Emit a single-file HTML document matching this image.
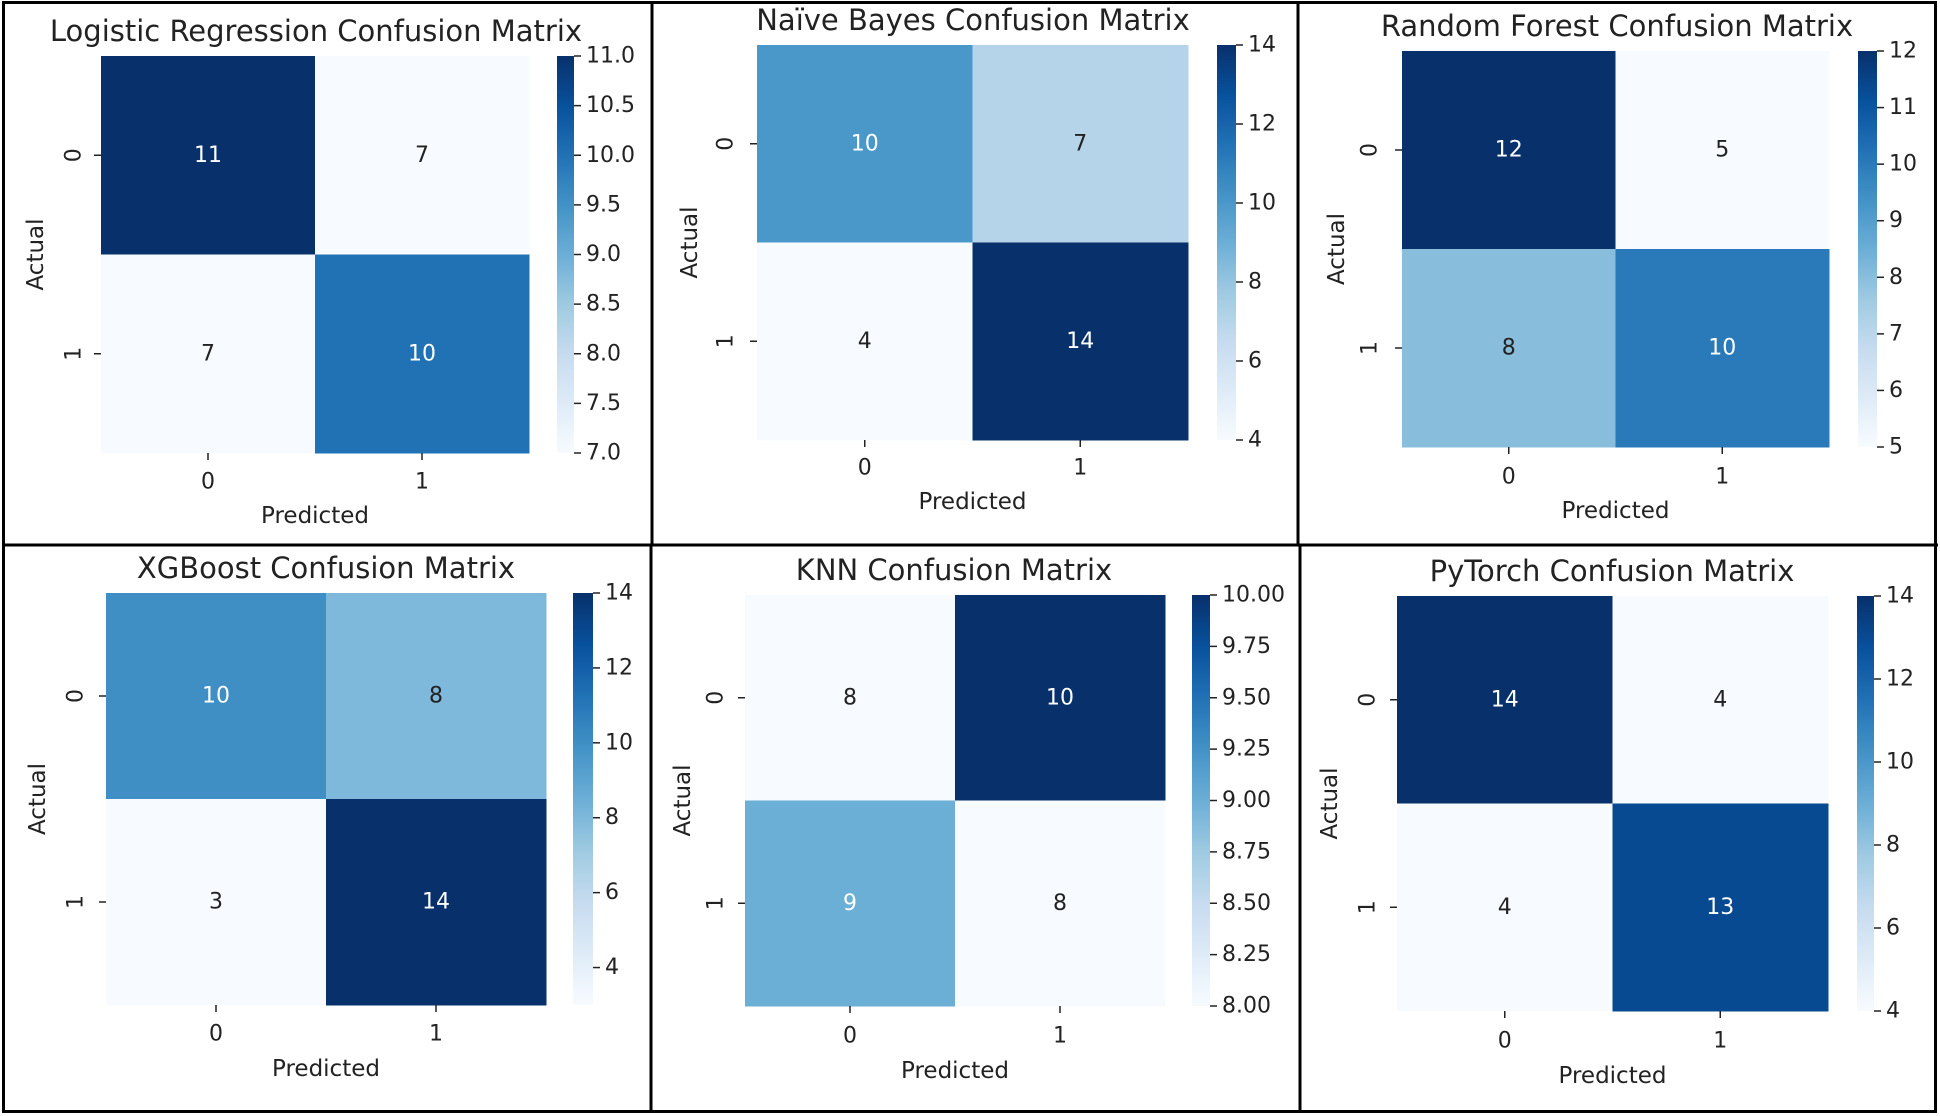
<!DOCTYPE html>
<html><head><meta charset="utf-8"><style>
html,body{margin:0;padding:0;background:#fff;}
svg{display:block;font-family:"DejaVu Sans","Liberation Sans",sans-serif;}
</style></head><body>
<svg id="fig" width="1940" height="1116" viewBox="0 0 1940 1116" xmlns="http://www.w3.org/2000/svg"></svg>
<script>
// ---- data ----
const titles = ["Logistic Regression Confusion Matrix","Naïve Bayes Confusion Matrix","Random Forest Confusion Matrix","XGBoost Confusion Matrix","KNN Confusion Matrix","PyTorch Confusion Matrix"];
const lrValues  = [[11,7],[7,10]];
const nbValues  = [[10,7],[4,14]];
const rfValues  = [[12,5],[8,10]];
const xgbValues = [[10,8],[3,14]];
const knnValues = [[8,10],[9,8]];
const ptValues  = [[14,4],[4,13]];
const classLabels = ["0","1"];
const lrTicks  = [7,7.5,8,8.5,9,9.5,10,10.5,11];
const nbTicks  = [4,6,8,10,12,14];
const rfTicks  = [5,6,7,8,9,10,11,12];
const xgbTicks = [4,6,8,10,12,14];
const knnTicks = [8,8.25,8.5,8.75,9,9.25,9.5,9.75,10];
const ptTicks  = [4,6,8,10,12,14];
const tickDecimals = [1,0,0,0,2,0];

// ---- layout (pixel geometry, not data) ----
const layout = [
 {hx0:101,hx1:529,hy0:56,hy1:453,cx0:557,cx1:574,tx:316,ty:31,ylx:36,ytx:74,xty:482,plY:516},
 {hx0:757,hx1:1188,hy0:45,hy1:440,cx0:1217,cx1:1236,tx:973,ty:20,ylx:690,ytx:726,xty:468,plY:502},
 {hx0:1402,hx1:1829,hy0:51,hy1:447,cx0:1858,cx1:1877,tx:1617,ty:26,ylx:1337,ytx:1370,xty:477,plY:511},
 {hx0:106,hx1:546,hy0:593,hy1:1005,cx0:573,cx1:593,tx:326,ty:568,ylx:38,ytx:76,xty:1034,plY:1069},
 {hx0:745,hx1:1165,hy0:595,hy1:1006,cx0:1192,cx1:1210,tx:954,ty:570,ylx:683,ytx:716,xty:1036,plY:1071},
 {hx0:1397,hx1:1828,hy0:596,hy1:1011,cx0:1857,cx1:1874,tx:1612,ty:571,ylx:1330,ytx:1368,xty:1041,plY:1076}
];
const allValues = [lrValues,nbValues,rfValues,xgbValues,knnValues,ptValues];
const allTicks = [lrTicks,nbTicks,rfTicks,xgbTicks,knnTicks,ptTicks];

const NS="http://www.w3.org/2000/svg";
const svg=document.getElementById('fig');
function mk(tag,attrs,parent){const e=document.createElementNS(NS,tag);for(const k in attrs)e.setAttribute(k,attrs[k]);(parent||svg).appendChild(e);return e;}

const blues=["#f7fbff","#deebf7","#c6dbef","#9ecae1","#6baed6","#4292c6","#2171b5","#08519c","#08306b"];
function hex2rgb(h){return [parseInt(h.slice(1,3),16),parseInt(h.slice(3,5),16),parseInt(h.slice(5,7),16)];}
function cmap(t){t=Math.max(0,Math.min(1,t));const p=t*8;const i=Math.min(7,Math.floor(p));const f=p-i;const a=hex2rgb(blues[i]),b=hex2rgb(blues[i+1]);return [0,1,2].map(k=>Math.round(a[k]+(b[k]-a[k])*f));}
function rgbStr(c){return `rgb(${c[0]},${c[1]},${c[2]})`;}
function lum(c){const l=c.map(v=>{v/=255;return v<=0.03928?v/12.92:Math.pow((v+0.055)/1.055,2.4);});return 0.2126*l[0]+0.7152*l[1]+0.0722*l[2];}

const TXT="#222222";
allValues.forEach((vals,p)=>{
  const L=layout[p];
  const flat=vals.flat();
  const vmin=Math.min(...flat), vmax=Math.max(...flat);
  const g=mk('g',{});
  
  
  const n=classLabels.length;
  const cw=(L.hx1-L.hx0)/n, ch=(L.hy1-L.hy0)/n;
  const xCenter=i=>L.hx0+cw*(i+0.5);
  const yCenter=i=>L.hy0+ch*(i+0.5);
  const t=mk('text',{x:L.tx,y:L.ty,'font-size':29,'text-anchor':'middle','dominant-baseline':'central',fill:TXT},g);
  t.textContent=titles[p];
  
  
  vals.forEach((row,r)=>row.forEach((v,c)=>{
    const col=cmap((v-vmin)/(vmax-vmin));
    const rect=mk('rect',{x:L.hx0+c*cw,y:L.hy0+r*ch,width:cw+0.5,height:ch+0.5,fill:rgbStr(col)},g);
    
    
    const a=mk('text',{x:xCenter(c),y:yCenter(r),'font-size':22,'text-anchor':'middle','dominant-baseline':'central',fill:lum(col)>0.408?TXT:'#ffffff'},g);
    a.textContent=String(v);
    
    
  }));
  classLabels.forEach((lab,i)=>{
    mk('line',{x1:xCenter(i),x2:xCenter(i),y1:L.hy1,y2:L.hy1+7,stroke:TXT,'stroke-width':1.5},g);
    const xt=mk('text',{x:xCenter(i),y:L.xty,'font-size':22,'text-anchor':'middle','dominant-baseline':'central',fill:TXT},g);
    xt.textContent=lab;
    
    
    mk('line',{x1:L.hx0-7,x2:L.hx0,y1:yCenter(i),y2:yCenter(i),stroke:TXT,'stroke-width':1.5},g);
    const yt=mk('text',{x:L.ytx,y:yCenter(i),'font-size':22,'text-anchor':'middle','dominant-baseline':'central',fill:TXT,transform:`rotate(-90 ${L.ytx} ${yCenter(i)})`},g);
    yt.textContent=lab;
    
    
  });
  const xl=mk('text',{x:(L.hx0+L.hx1)/2,y:L.plY,'font-size':23,'text-anchor':'middle','dominant-baseline':'central',fill:TXT},g);
  xl.textContent='Predicted';
  
  
  const ym=(L.hy0+L.hy1)/2;
  const yl=mk('text',{x:L.ylx,y:ym,'font-size':23,'text-anchor':'middle','dominant-baseline':'central',fill:TXT,transform:`rotate(-90 ${L.ylx} ${ym})`},g);
  yl.textContent='Actual';
  
  
  const gid='grad'+p;
  const defs=mk('defs',{},g);
  const lg=mk('linearGradient',{id:gid,x1:0,y1:1,x2:0,y2:0},defs);
  for(let k=0;k<=16;k++){mk('stop',{offset:k/16,'stop-color':rgbStr(cmap(k/16))},lg);}
  const cb=mk('rect',{x:L.cx0,y:L.hy0,width:L.cx1-L.cx0,height:L.hy1-L.hy0,fill:`url(#${gid})`},g);
  
  
  const cy=v=>L.hy1-(v-vmin)/(vmax-vmin)*(L.hy1-L.hy0);
  allTicks[p].forEach(v=>{
    const y=cy(v);
    mk('line',{x1:L.cx1,x2:L.cx1+7,y1:y,y2:y,stroke:TXT,'stroke-width':1.5},g);
    const ct=mk('text',{x:L.cx1+12,y:y,'font-size':22,'dominant-baseline':'central',fill:TXT},g);
    ct.textContent=v.toFixed(tickDecimals[p]);
    
    
  });
});
const bord=mk('g',{stroke:'#000',fill:'none','stroke-width':3});


mk('rect',{x:3.5,y:2.5,width:1932,height:1109},bord);
mk('line',{x1:2,x2:1938,y1:545,y2:545},bord);
mk('line',{x1:652,x2:652,y1:2,y2:545},bord);
mk('line',{x1:1298,x2:1298,y1:2,y2:545},bord);
mk('line',{x1:651,x2:651,y1:545,y2:1113},bord);
mk('line',{x1:1300,x2:1300,y1:545,y2:1113},bord);
</script>
</body></html>
